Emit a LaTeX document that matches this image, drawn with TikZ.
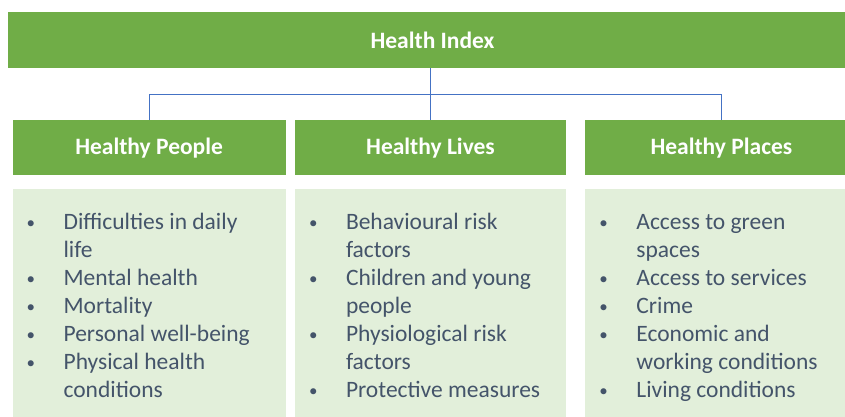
\documentclass[tikz,border=0pt]{standalone}
\usepackage{fontspec}
\setmainfont{Carlito}
\usetikzlibrary{positioning}
\definecolor{hgreen}{HTML}{70AD47}
\definecolor{hlight}{HTML}{E2EFDA}
\definecolor{htext}{HTML}{44546A}
\definecolor{hline}{HTML}{4472C4}
\newcommand{\hbul}{\raisebox{1.5pt}{\fontsize{17}{28}\selectfont\textbullet}}
\begin{document}
\begin{tikzpicture}[x=1pt, y=-1pt, font=\fontsize{23.5}{28}\selectfont,
	head/.style={fill=hgreen, text=white, font=\fontsize{23.5}{28}\selectfont\bfseries, minimum height=56pt, inner sep=0pt},
	body/.style={fill=hlight, minimum height=232pt, inner sep=0pt},
	items/.style={text=htext, inner sep=0pt, anchor=base west},
	link/.style={draw=hline, line width=0.8pt}]
	\useasboundingbox (0,0) rectangle (845,416);
	% top bar and the three headers
	\node[head, minimum width=849pt] (index) at (432.5,40) {Health Index};
	\node[head, minimum width=271pt, minimum height=55pt, below=52pt of index, xshift=-2pt] (lives) {Healthy Lives};
	\node[head, minimum width=273pt, minimum height=55pt, left=9pt of lives] (people) {Healthy People};
	\node[head, minimum width=272pt, minimum height=55pt, right=19pt of lives] (places) {Healthy Places};
	% connectors
	\path (index.south -| lives.north) -- (lives.north) coordinate[midway] (bus);
	\draw[link] (index.south -| lives.north) -- (lives.north);
	\draw[link] (people.north) |- (bus) -| (places.north);
	% light boxes with the lists
	\node[body, minimum width=273pt, below=13pt of people] (peoplebox) {};
	\node[body, minimum width=271pt, below=13pt of lives] (livesbox) {};
	\node[body, minimum width=272pt, below=13pt of places] (placesbox) {};
	\node[items] (peoplelist) at ([shift={(14,41)}]peoplebox.north west) {\begin{tabular}[t]{@{}p{37pt}@{}l@{}}
		\hbul & Difficulties in daily\\ & life\\
		\hbul & Mental health\\
		\hbul & Mortality\\
		\hbul & Personal well-being\\
		\hbul & Physical health\\ & conditions
	\end{tabular}};
	\node[items] (liveslist) at ([shift={(14,41)}]livesbox.north west) {\begin{tabular}[t]{@{}p{37pt}@{}l@{}}
		\hbul & Behavioural risk\\ & factors\\
		\hbul & Children and young\\ & people\\
		\hbul & Physiological risk\\ & factors\\
		\hbul & Protective measures
	\end{tabular}};
	\node[items] (placeslist) at ([shift={(14,41)}]placesbox.north west) {\begin{tabular}[t]{@{}p{37pt}@{}l@{}}
		\hbul & Access to green\\ & spaces\\
		\hbul & Access to services\\
		\hbul & Crime\\
		\hbul & Economic and\\ & working conditions\\
		\hbul & Living conditions
	\end{tabular}};
\end{tikzpicture}
\end{document}
